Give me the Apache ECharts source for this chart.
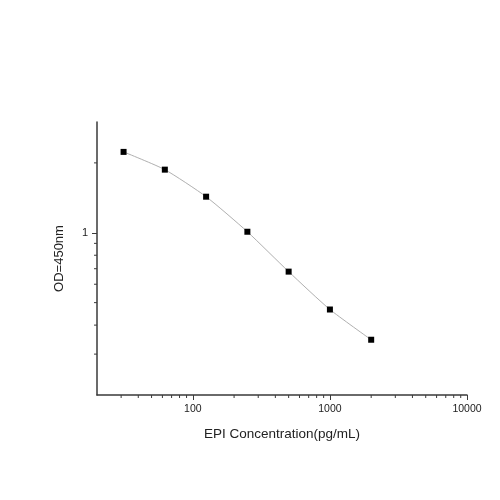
<!DOCTYPE html>
<html>
<head>
<meta charset="utf-8">
<script src="https://cdn.jsdelivr.net/npm/echarts@6/dist/echarts.min.js"></script>
<style>html,body{margin:0;padding:0;background:#fff}#c{width:500px;height:500px}</style>
</head>
<body>
<div id="c"></div>
<script>
const concentrations = [31.25, 62.5, 125, 250, 500, 1000, 2000];
const odValues = [2.23, 1.87, 1.43, 1.01, 0.68, 0.467, 0.346];
const xMajorTicks = [100, 1000, 10000];
const xMinorTicks = [30, 40, 50, 60, 70, 80, 90, 200, 300, 400, 500, 600, 700, 800, 900, 2000, 3000, 4000, 5000, 6000, 7000, 8000, 9000];
const yMinorTicks = [0.3, 0.4, 0.5, 0.6, 0.7, 0.8, 0.9, 2];
const xRange = [20, 10000];
const yRange = [0.2, 3];

const axisColor = '#3a3a3a';
const font = 'Liberation Sans, Arial, sans-serif';

const chart = echarts.init(document.getElementById('c'), null, {renderer: 'canvas'});

function tickSeries(values, axis) {
  return {
    type: 'custom',
    silent: true,
    clip: false,
    z: 5,
    data: values.map(v => axis === 'x' ? [v, yRange[0]] : [xRange[0], v]),
    renderItem: function (params, api) {
      const p = api.coord([api.value(0), api.value(1)]);
      const len = 3;
      const shape = axis === 'x'
        ? {x1: p[0], y1: p[1], x2: p[0], y2: p[1] + len}
        : {x1: p[0], y1: p[1], x2: p[0] - len, y2: p[1]};
      return {type: 'line', shape: shape, style: {stroke: axisColor, lineWidth: 1}};
    }
  };
}

chart.setOption({
  animation: false,
  backgroundColor: '#fff',
  grid: {left: 97, right: 33, top: 122, bottom: 105, containLabel: false},
  xAxis: {
    type: 'log',
    logBase: 10,
    min: xRange[0],
    max: xRange[1],
    name: 'EPI Concentration(pg/mL)',
    nameLocation: 'middle',
    nameGap: 32,
    nameTextStyle: {fontFamily: font, fontSize: 13.5, color: '#222'},
    axisLine: {lineStyle: {color: axisColor, width: 1.5}},
    axisTick: {show: true, length: 5, lineStyle: {color: axisColor, width: 1}},
    axisLabel: {
      showMinLabel: false,
      fontFamily: font, fontSize: 10.5, color: '#222', margin: 9,
      formatter: function (v) { return xMajorTicks.indexOf(Math.round(v)) >= 0 ? String(Math.round(v)) : ''; }
    },
    splitLine: {show: false}
  },
  yAxis: {
    type: 'log',
    logBase: 10,
    min: yRange[0],
    max: yRange[1],
    name: 'OD=450nm',
    nameLocation: 'middle',
    nameGap: 31,
    nameRotate: 90,
    nameTextStyle: {fontFamily: font, fontSize: 13, color: '#222'},
    axisLine: {lineStyle: {color: axisColor, width: 1.5}},
    axisTick: {show: true, length: 5, lineStyle: {color: axisColor, width: 1}},
    axisLabel: {
      showMinLabel: false, showMaxLabel: false,
      fontFamily: font, fontSize: 11, color: '#222', margin: 9,
      formatter: function (v) { return Math.abs(v - 1) < 1e-9 ? '1' : ''; }
    },
    splitLine: {show: false}
  },
  series: [
    {
      type: 'line',
      data: concentrations.map((c, i) => [c, odValues[i]]),
      smooth: 0.2,
      symbol: 'rect',
      symbolSize: 6,
      itemStyle: {color: '#000'},
      lineStyle: {color: '#b0b0b0', width: 1}
    },
    tickSeries(xMinorTicks, 'x'),
    tickSeries(yMinorTicks, 'y')
  ]
});
</script>
</body>
</html>
